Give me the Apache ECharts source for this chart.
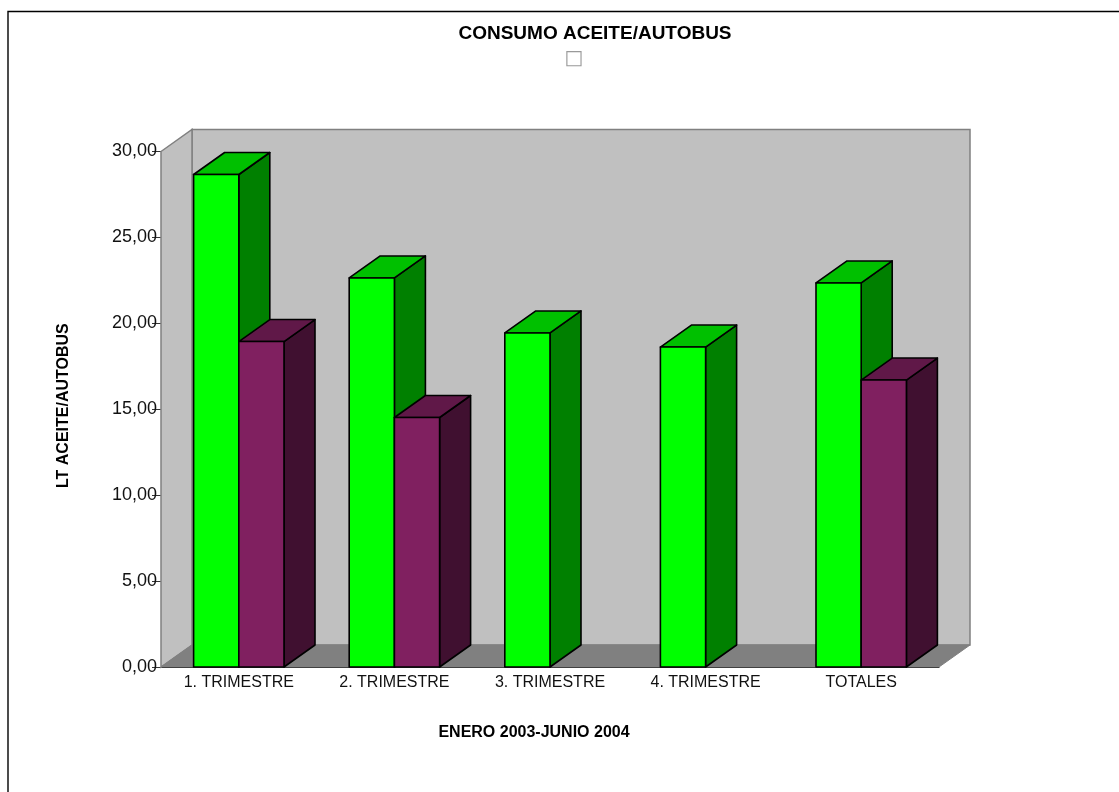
<!DOCTYPE html>
<html><head><meta charset="utf-8">
<style>html,body{margin:0;padding:0;background:#fff}#c{width:1119px;height:792px}</style>
<script src="https://cdn.jsdelivr.net/npm/echarts@6/dist/echarts.min.js"></script>
</head><body><div id="c"></div>
<script>
const categories = ['1. TRIMESTRE','2. TRIMESTRE','3. TRIMESTRE','4. TRIMESTRE','TOTALES'];
const greenValues = [28.66, 22.64, 19.44, 18.62, 22.35];
const purpleValues = [18.94, 14.52, null, null, 16.7];
const titleText = 'CONSUMO ACEITE/AUTOBUS';
const yName = 'LT ACEITE/AUTOBUS';
const xName = 'ENERO 2003-JUNIO 2004';

const DX = 31, DY = -22, BAR_FRAC = 45.2 / 155.6;
const FONT = '"Liberation Sans", Arial, sans-serif';

function barSeries(values, front, top, side, offset) {
  return {
    type: 'custom', clip: false, coordinateSystem: 'cartesian2d',
    encode: {x: 0, y: 1},
    data: values.map((v, i) => [i, v]),
    renderItem(params, api) {
      const v = api.value(1);
      if (v == null || isNaN(v)) return null;
      const w = api.size([1, 0])[0] * BAR_FRAC;
      const t = api.coord([api.value(0), v]);
      const b = api.coord([api.value(0), 0]);
      const x0 = t[0] + offset * w, x1 = x0 + w, y0 = t[1], y1 = b[1];
      const st = c => ({fill: c, stroke: '#000', lineWidth: 1.6, lineJoin: 'round'});
      return {type: 'group', children: [
        {type: 'polygon', shape: {points: [[x1,y0],[x1+DX,y0+DY],[x1+DX,y1+DY],[x1,y1]]}, style: st(side)},
        {type: 'polygon', shape: {points: [[x0,y0],[x0+DX,y0+DY],[x1+DX,y0+DY],[x1,y0]]}, style: st(top)},
        {type: 'rect', shape: {x: x0, y: y0, width: w, height: y1 - y0}, style: st(front)}
      ]};
    }
  };
}

const chart = echarts.init(document.getElementById('c'), null, {renderer: 'canvas'});
chart.setOption({
  animation: false,
  backgroundColor: '#fff',
  title: [
    {text: titleText, left: 590, top: 19, textAlign: 'center',
     textStyle: {fontFamily: FONT, fontSize: 19, fontWeight: 'bold', color: '#000'}},
  ],
  grid: {left: 161, top: 151.5, width: 778, height: 515.5},
  xAxis: {type: 'category', data: categories, boundaryGap: true,
    axisLine: {lineStyle: {color: '#000', width: 1}},
    axisTick: {alignWithLabel: false, length: 9, lineStyle: {color: '#222'}},
    axisLabel: {color: '#111', fontFamily: FONT, fontSize: 16, margin: 8}},
  yAxis: {type: 'value', min: 0, max: 30, interval: 5,
    axisLine: {show: true, lineStyle: {color: '#555', width: 1}},
    axisTick: {show: true, length: 9, lineStyle: {color: '#333'}},
    splitLine: {show: false},
    axisLabel: {color: '#111', fontFamily: FONT, fontSize: 18, margin: 4,
      formatter: v => v.toFixed(2).replace('.', ',')}},
  graphic: [
    {type: 'polyline', silent: true, shape: {points: [[8,792],[8,11.5],[1119,11.5]]}, style: {fill: null, stroke: '#000', lineWidth: 1.4}},
    {type: 'text', silent: true, x: 574, y: 59, style: {text: '\u25A1', font: '20px "DejaVu Sans"', fill: '#9a9a9a', textAlign: 'center', textVerticalAlign: 'middle'}},
    {type: 'text', silent: true, x: 534, y: 733, style: {text: xName, font: 'bold 16px ' + FONT, fill: '#000', textAlign: 'center', textVerticalAlign: 'middle'}},
    {type: 'text', silent: true, x: 64, y: 488, rotation: Math.PI / 2, style: {text: yName, font: 'bold 16px ' + FONT, fill: '#000', textAlign: 'left', textVerticalAlign: 'middle'}},
    {type: 'rect', silent: true, z: 200, shape: {x: 50, y: 270, width: 30, height: 27}, style: {fill: '#fff'}}
  ],
  series: [
    {type: 'custom', clip: false, z: 1, coordinateSystem: 'cartesian2d', encode: {x: 0, y: 1}, data: [[0, 0]],
     renderItem(params) {
       const g = params.coordSys, L = g.x, T = g.y, R = g.x + g.width, B = g.y + g.height;
       const wall = {fill: '#c0c0c0', stroke: '#808080', lineWidth: 1.5};
       return {type: 'group', children: [
         {type: 'rect', shape: {x: L+DX, y: T+DY, width: g.width, height: g.height}, style: wall},
         {type: 'polygon', shape: {points: [[L,T],[L+DX,T+DY],[L+DX,B+DY],[L,B]]}, style: wall},
         {type: 'polygon', shape: {points: [[L,B],[L+DX,B+DY],[R+DX,B+DY],[R,B]]}, style: {fill: '#808080', stroke: '#808080', lineWidth: 1}}
       ]};
     }},
    Object.assign(barSeries(greenValues, '#00ff00', '#00c000', '#008000', -1), {z: 2}),
    Object.assign(barSeries(purpleValues, '#802060', '#601848', '#401030', 0), {z: 3})
  ]
});
</script></body></html>
